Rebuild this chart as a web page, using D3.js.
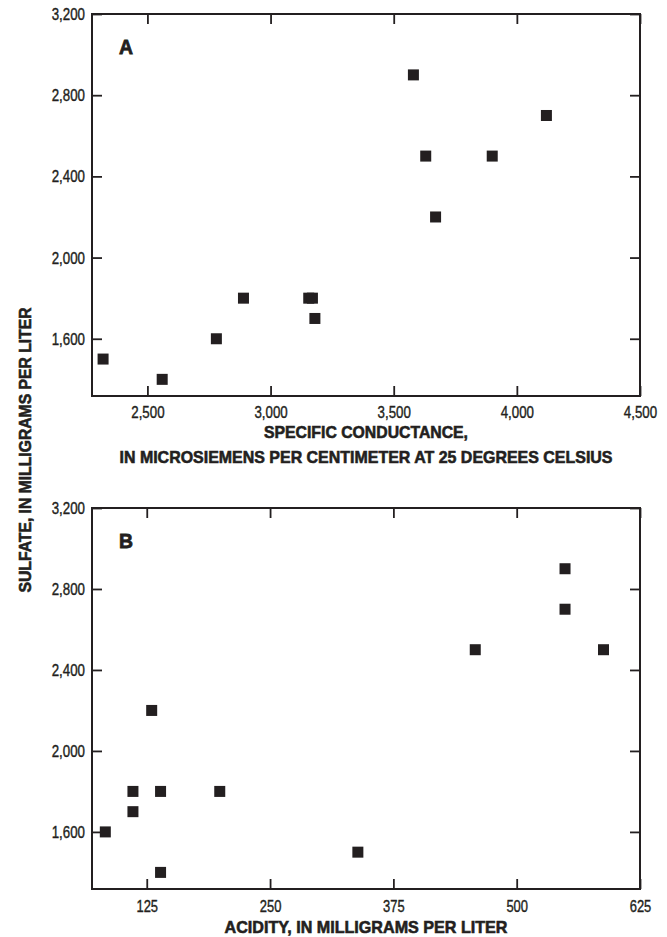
<!DOCTYPE html>
<html lang="en">
<head>
<meta charset="UTF-8">
<title>Sulfate vs conductance and acidity</title>
<style>
  body { margin: 0; background: #fff; }
  svg { display: block; }
  .tick text { font-family: "Liberation Sans", Arial, sans-serif; font-size: 17px; fill: #231f20; stroke: #231f20; stroke-width: 0.4px; }
  .tick line { stroke: #231f20; stroke-width: 1.8px; }
  .title { font-family: "Liberation Sans", Arial, sans-serif; font-weight: bold; font-size: 17px; fill: #231f20; stroke: #231f20; stroke-width: 0.6px; }
  .panel-label { font-family: "Liberation Sans", Arial, sans-serif; font-weight: bold; font-size: 21px; fill: #231f20; stroke: #231f20; stroke-width: 0.8px; }
</style>
</head>
<body>
<svg id="chart"></svg>
<script src="https://cdnjs.cloudflare.com/ajax/libs/d3/7.8.5/d3.min.js"></script>
<script>
// panel A: specific conductance vs sulfate
var conductance = [2320, 2560, 2780, 2890, 3155, 3170, 3180, 3580, 3630, 3670, 3900, 4120];
var sulfateA    = [1500, 1400, 1600, 1800, 1800, 1800, 1700, 2900, 2500, 2200, 2500, 2700];

// panel B: acidity vs sulfate
var acidity  = [83, 111, 111, 130, 139, 139, 199, 339, 458, 549, 549, 588];
var sulfateB = [1600, 1800, 1700, 2200, 1800, 1400, 1800, 1500, 2500, 2900, 2700, 2500];

var conductanceTicks = [2500, 3000, 3500, 4000, 4500];
var acidityTicks = [125, 250, 375, 500, 625];
var sulfateTicks = [1600, 2000, 2400, 2800, 3200];

var width = 667, height = 937;
var left = 92, right = 640;
var ink = "#231f20";

var svg = d3.select("#chart").attr("width", width).attr("height", height);

// squeeze labels to the condensed look of the original
function condense(sel) {
  sel.selectAll(".tick text").each(function() {
    var t = d3.select(this).text();
    if (!t) return;
    var digits = t.replace(/[^0-9]/g, "").length;
    var commas = t.length - digits;
    d3.select(this).attr("textLength", digits * 7.2 + commas * 4.5)
      .attr("lengthAdjust", "spacingAndGlyphs");
  });
}

function panel(opts) {
  var x = d3.scaleLinear().domain(opts.xDomain).range([left, right]);
  var y = d3.scaleLinear().domain([1318, 3200]).range([opts.bottom, opts.top]);
  var g = svg.append("g");

  // inward ticks on all four sides
  g.append("g").attr("transform", "translate(0," + opts.bottom + ")")
    .call(d3.axisBottom(x).tickValues(opts.xTicks).tickSize(-10).tickSizeOuter(0)
      .tickPadding(opts.xPad).tickFormat(opts.xFormat))
    .call(condense);
  g.append("g").attr("transform", "translate(0," + opts.top + ")")
    .call(d3.axisTop(x).tickValues(opts.xTicks).tickSize(-10).tickSizeOuter(0).tickFormat(""));
  g.append("g").attr("transform", "translate(" + left + ",0)")
    .call(d3.axisLeft(y).tickValues(sulfateTicks).tickSize(-10).tickSizeOuter(0)
      .tickPadding(7).tickFormat(d3.format(",")))
    .call(condense);
  g.append("g").attr("transform", "translate(" + right + ",0)")
    .call(d3.axisRight(y).tickValues(sulfateTicks).tickSize(-10).tickSizeOuter(0).tickFormat(""));
  g.selectAll(".domain").remove();
  g.selectAll(".tick text").attr("fill", ink);

  // frame
  g.append("rect")
    .attr("x", left).attr("y", opts.top)
    .attr("width", right - left).attr("height", opts.bottom - opts.top)
    .attr("fill", "none").attr("stroke", ink).attr("stroke-width", 2);

  var s = 11;
  g.selectAll(".pt").data(opts.xs).enter().append("rect")
    .attr("class", "pt")
    .attr("x", function(d) { return x(d) - s / 2; })
    .attr("y", function(d, i) { return y(opts.ys[i]) - s / 2; })
    .attr("width", s).attr("height", s)
    .attr("fill", ink);

  g.append("text").attr("class", "panel-label")
    .attr("x", 119).attr("y", opts.top + 40)
    .attr("textLength", 14).attr("lengthAdjust", "spacingAndGlyphs")
    .text(opts.label);
  return g;
}

panel({ top: 14, bottom: 396, xDomain: [2275, 4500], xTicks: conductanceTicks,
        xFormat: d3.format(","), xPad: 10, xs: conductance, ys: sulfateA, label: "A" });
panel({ top: 508, bottom: 889, xDomain: [69.5, 625], xTicks: acidityTicks,
        xFormat: d3.format("d"), xPad: 11, xs: acidity, ys: sulfateB, label: "B" });

// axis titles
svg.append("text").attr("class", "title").attr("text-anchor", "middle")
  .attr("x", 366).attr("y", 438)
  .attr("textLength", 204).attr("lengthAdjust", "spacingAndGlyphs")
  .text("SPECIFIC CONDUCTANCE,");
svg.append("text").attr("class", "title").attr("text-anchor", "middle")
  .attr("x", 366).attr("y", 463)
  .attr("textLength", 493).attr("lengthAdjust", "spacingAndGlyphs")
  .text("IN MICROSIEMENS PER CENTIMETER AT 25 DEGREES CELSIUS");
svg.append("text").attr("class", "title").attr("text-anchor", "middle")
  .attr("x", 366).attr("y", 933)
  .attr("textLength", 283).attr("lengthAdjust", "spacingAndGlyphs")
  .text("ACIDITY, IN MILLIGRAMS PER LITER");
svg.append("text").attr("class", "title").attr("text-anchor", "middle")
  .attr("transform", "translate(31,450) rotate(-90)")
  .attr("textLength", 285).attr("lengthAdjust", "spacingAndGlyphs")
  .text("SULFATE, IN MILLIGRAMS PER LITER");
</script>
</body>
</html>
